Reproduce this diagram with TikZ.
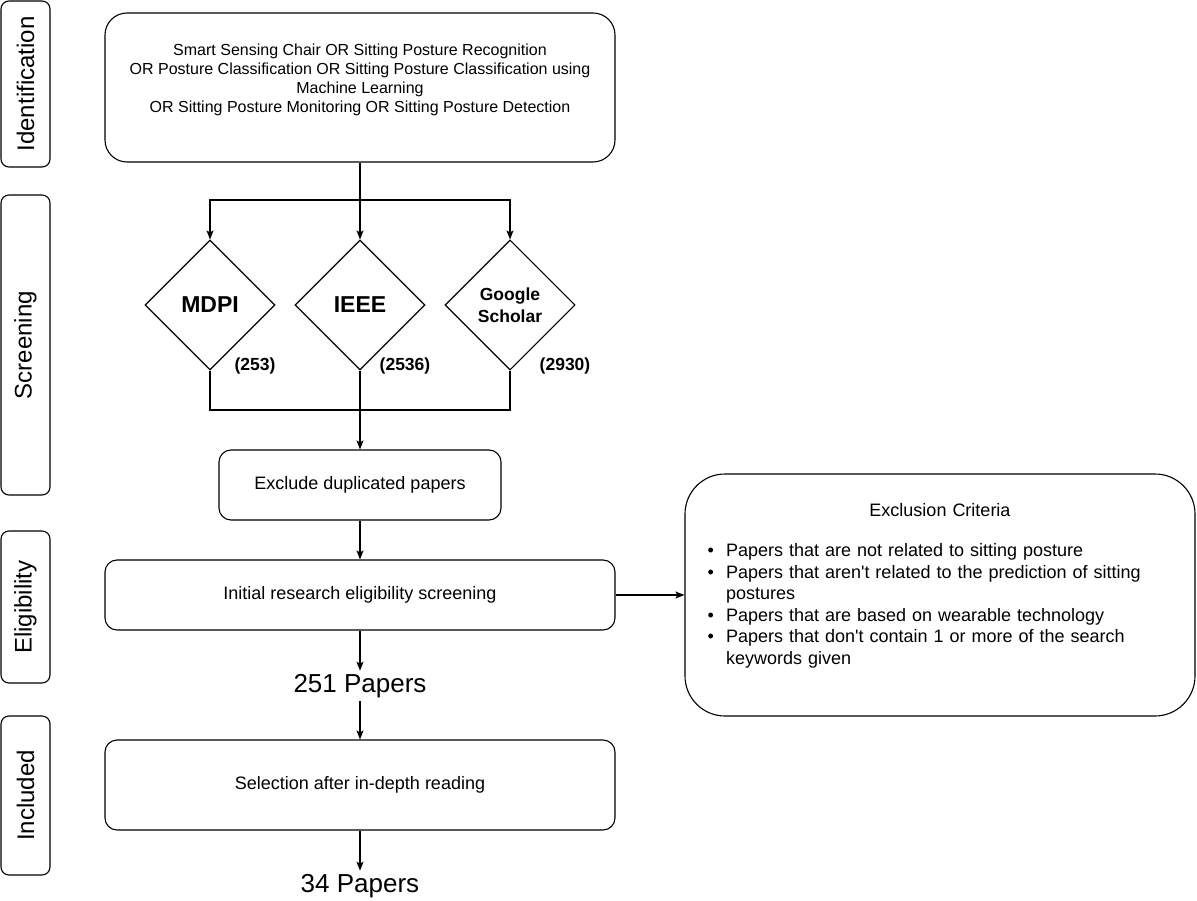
\documentclass[tikz,border=0pt]{standalone}
\usepackage{fontspec}
\setmainfont{Liberation Sans}
\usepackage{tikz}
\usetikzlibrary{shapes.geometric, arrows.meta}

\tikzset{
  stage/.style={draw, rounded corners=8pt, rotate=90, inner sep=0pt, minimum height=49pt, font=\fontsize{24}{28}\selectfont},
  box/.style={draw, rounded corners=12pt, align=center, inner sep=0pt, font=\fontsize{18}{22}\selectfont},
  db/.style={draw, diamond, inner sep=0pt, minimum width=130pt, minimum height=130pt, font=\bfseries\fontsize{23}{26}\selectfont},
  count/.style={inner sep=0pt, font=\bfseries\fontsize{17.5}{20}\selectfont},
  total/.style={inner sep=3pt, font=\fontsize{26}{30}\selectfont},
  arr/.style={-{Stealth[length=9pt, width=7pt, inset=2pt]}}
}

\begin{document}
\begin{tikzpicture}[x=1pt, y=-1pt, line width=1.1pt]
\useasboundingbox (0,0) rectangle (1197,901);
\node[stage, minimum width=166pt] (ident) at (25.5,84) {Identification};
\node[stage, minimum width=300pt] (screen) at (25.5,345) {Screening};
\node[stage, minimum width=152pt] (elig) at (25.5,607) {Eligibility};
\node[stage, minimum width=159pt] (incl) at (25.5,795.5) {Included};
\node[box, rounded corners=22pt, minimum width=510pt, minimum height=149pt, font=\fontsize{16}{19}\selectfont] (query) at (360,87.5) {Smart Sensing Chair OR Sitting Posture Recognition\\ OR Posture Classification OR Sitting Posture Classification using\\ Machine Learning\\ OR Sitting Posture Monitoring OR Sitting Posture Detection\\ \rule{0pt}{0pt}};
\node[db] (mdpi) at (210,305) {MDPI};
\node[db] (ieee) at (360,305) {IEEE};
\node[db, align=center, font=\bfseries\fontsize{17.5}{22}\selectfont] (gs) at (510,305) {Google\\Scholar};
\node[count] (nmdpi) at (255,366) {(253)};
\node[count] (nieee) at (405,366) {(2536)};
\node[count] (ngs) at (565,366) {(2930)};
\coordinate (split) at (360,200);
\coordinate (join) at (360,410);
\node[box, minimum width=282pt, minimum height=70pt] (dup) at (360,485) {Exclude duplicated papers};
\node[box, minimum width=510pt, minimum height=70pt] (initial) at (360,595) {Initial research eligibility screening};
\node[box, rounded corners=40pt, minimum width=510pt, minimum height=242pt, text width=510pt, align=left] (criteria) at (940,595) {{\centering Exclusion Criteria\par}\vspace{18.5pt}
\begin{list}{\textbullet}{\setlength\leftmargin{41pt}\setlength\labelwidth{10pt}\setlength\labelsep{12pt}\setlength\itemsep{0pt}\setlength\topsep{0pt}\setlength\partopsep{0pt}\setlength\parsep{0pt}\setlength\rightmargin{0pt}\fontsize{18}{21.5}\selectfont}
\item Papers that are not related to sitting posture
\item Papers that aren\textquotesingle t related to the prediction of sitting\\ postures
\item Papers that are based on wearable technology
\item Papers that don\textquotesingle t contain 1 or more of the search\\ keywords given
\end{list}\par\noindent\rule{0pt}{1pt}};
\node[total] (p251) at (360,686) {251 Papers};
\node[box, minimum width=510pt, minimum height=90pt] (select) at (360,785) {Selection after in-depth reading};
\node[total] (p34) at (360,886) {34 Papers};
\draw (query) -- (split);
\draw[arr] (split) -| (mdpi.north);
\draw[arr] (split) -- (ieee.north);
\draw[arr] (split) -| (gs.north);
\draw (mdpi.south) |- (join);
\draw (gs.south) |- (join);
\draw[arr] (ieee.south) -- (dup.north);
\draw[arr] (dup) -- (initial);
\draw[arr] (initial) -- (criteria);
\draw[arr] (initial) -- (p251);
\draw[arr] (p251) -- (select);
\draw[arr] (select) -- (p34);
\end{tikzpicture}
\end{document}
